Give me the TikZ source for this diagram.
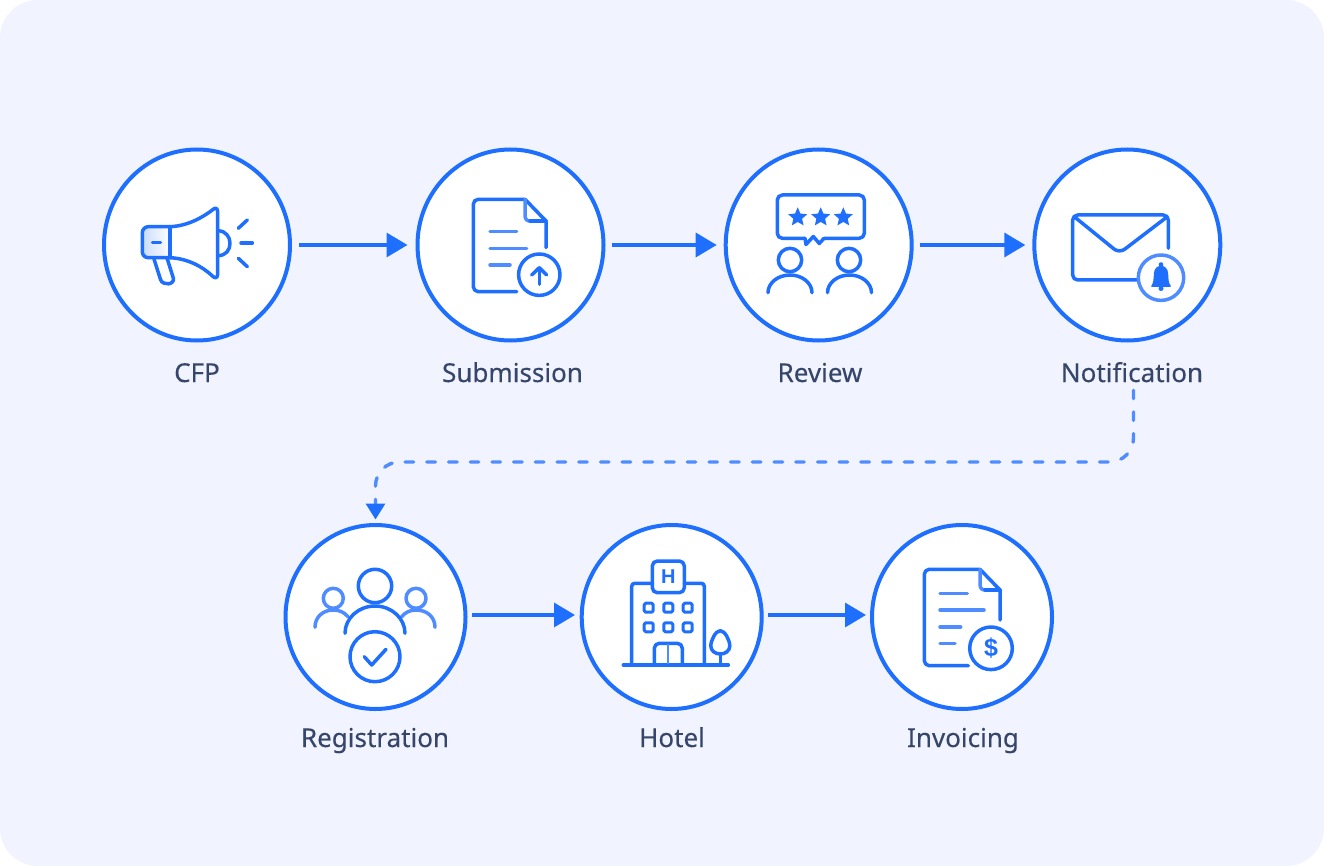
\documentclass[tikz,border=0pt]{standalone}
\usepackage{fontspec}
\setmainfont{Noto Sans}
\newfontfamily\signfont{Liberation Sans}
\usetikzlibrary{arrows.meta,calc,shapes.geometric}
\definecolor{bgpanel}{HTML}{F1F4FE}
\definecolor{mainblue}{HTML}{1F6FFF}
\definecolor{softblue}{HTML}{4F8CFF}
\definecolor{paleblue}{HTML}{C9DCFC}
\definecolor{labelink}{HTML}{36456A}
\tikzset{
  bigstation/.style={ellipse,draw=mainblue,fill=white,line width=4pt,minimum width=186pt,minimum height=191pt,inner sep=0pt,outer sep=0pt},
  smallstation/.style={ellipse,draw=mainblue,fill=white,line width=4pt,minimum width=180pt,minimum height=184pt,inner sep=0pt,outer sep=0pt},
  caption/.style={anchor=base,inner sep=0pt,outer sep=0pt,text=labelink,font=\fontsize{26}{30}\selectfont\addfontfeature{FakeBold=0.25}},
  flow/.style={draw=mainblue,line width=3.5pt,-{Triangle[length=21pt,width=24pt,color=mainblue]}},
  dashflow/.style={draw=softblue,line width=3.4pt,line cap=round,dash pattern=on 8.5pt off 13.2pt,rounded corners=24pt,-{Triangle[length=16pt,width=19pt,color=mainblue]}},
  ico/.style={draw=mainblue,line width=3.5pt,line cap=round,line join=round},
  icosoft/.style={draw=softblue,line width=3.5pt,line cap=round,line join=round},
  icothin/.style={draw=mainblue,line width=3pt,line cap=round,line join=round},
  icotext/.style={inner sep=0pt,outer sep=0pt,text=mainblue,font=\signfont\bfseries}
}
\newcommand{\personarc}[5][ico]{% centre x, half width, top y, bottom y
  \draw[#1] (#2-#3,#5) .. controls (#2-#3,#4+0.45*#5-0.45*#4) and (#2-0.55*#3,#4) .. (#2,#4)
    .. controls (#2+0.55*#3,#4) and (#2+#3,#4+0.45*#5-0.45*#4) .. (#2+#3,#5);}
\newcommand{\ratingstar}[2]{%
  \fill[mainblue,shift={(#1,#2)},line join=round]
   (-90:10) -- (-54:4.6) -- (-18:10) -- (18:4.6) -- (54:10) -- (90:4.6) -- (126:10) -- (162:4.6) -- (198:10) -- (234:4.6) -- cycle;}
\begin{document}
\begin{tikzpicture}[x=1pt,y=-1pt]
\useasboundingbox (0,0) rectangle (1324,866);
\fill[white] (0,0) rectangle (1324,866);
\fill[bgpanel,rounded corners=38pt] (0,0) rectangle (1324,866);

% stations
\node[bigstation] (cfp) at (197,245) {};
\node[bigstation] (sub) at (510.5,245) {};
\node[bigstation] (rev) at (818.7,245) {};
\node[bigstation] (noti) at (1127.3,245) {};
\node[smallstation] (reg) at (375.5,617) {};
\node[smallstation] (hot) at (671.7,617) {};
\node[smallstation] (inv) at (962,617) {};

% captions
\node[caption] (lcfp) at (197,382) {CFP};
\node[caption] (lsub) at (512.5,382) {Submission};
\node[caption] (lrev) at (820,382) {Review};
\node[caption] (lnoti) at (1132,382) {Notification};
\node[caption] (lreg) at (375,747) {Registration};
\node[caption] (lhot) at (672,747) {Hotel};
\node[caption] (linv) at (963,747) {Invoicing};

% connectors
\draw[flow,shorten <=9pt,shorten >=10pt] (cfp.east) -- (sub.west);
\draw[flow,shorten <=8pt,shorten >=9pt] (sub.east) -- (rev.west);
\draw[flow,shorten <=8pt,shorten >=9pt] (rev.east) -- (noti.west);
\draw[flow,shorten <=6.5pt,shorten >=6.7pt] ([yshift=2pt]reg.east) -- ([yshift=2pt]hot.west);
\draw[flow,shorten <=6.3pt,shorten >=6pt] ([yshift=2pt]hot.east) -- ([yshift=2pt]inv.west);
\coordinate (bendA) at (1133.5,462);
\coordinate (bendB) at (375.5,462);
\draw[dashflow,shorten <=8pt,shorten >=5.5pt] (lnoti.south -| bendA) -- (bendA) -- (bendB) -- (reg.north);

% megaphone
\shade[left color=paleblue,right color=white,rounded corners=6pt] (142.3,226.7) rectangle (170,257.7);
\draw[ico,rounded corners=6pt] (170,226.7) -- (142.3,226.7) -- (142.3,257.7) -- (170,257.7);
\draw[ico] (170,226.7) -- (170,257.7);
\draw[ico] (170,226.7) .. controls (187,226) and (202,218) .. (213,209.5) .. controls (215,207.5) and (217.5,208) .. (217.5,211) -- (217.5,275) .. controls (217.5,278) and (215,278.5) .. (213,276.5) .. controls (202,266) and (187,258.5) .. (170,257.7);
\draw[ico] (218,230.7) .. controls (226,231) and (230,237) .. (230,243.3) .. controls (230,250) and (226,255.5) .. (218,255.7);
\draw[ico] (152.5,242.7) -- (160.5,242.7);
\draw[ico] (238.3,228.3) -- (247.3,220);
\draw[ico] (241,243) -- (252.3,243);
\draw[ico] (238.3,258.3) -- (247.3,266.7);
\draw[ico] (154,259) -- (160.5,279.5) .. controls (162.5,286) and (175,285) .. (173.3,278) -- (167,258);

% submission document
\draw[ico,rounded corners=5pt] (516.7,291.7) -- (473.3,291.7) -- (473.3,199.3) -- (525,199.3);
\draw[ico] (525,199.3) -- (546,221) -- (546,247.7);
\draw[icosoft] (525,199.3) -- (525,215) .. controls (525,219) and (526.5,221) .. (530,221);
\draw[ico] (530,221) -- (546,221);
\draw[icosoft] (490,231.3) -- (516.7,231.3);
\draw[icosoft] (490,248.3) -- (526.7,248.3);
\draw[icosoft] (490,265) -- (510,265);
\draw[ico] (539.3,274.7) circle[radius=20.7pt];
\draw[ico] (539.3,284.3) -- (539.3,268);
\draw[ico] (531.7,275) -- (539.3,267.7) -- (546.7,275);

% review
\draw[ico,rounded corners=5pt] (824,238.3) -- (864.3,238.3) -- (864.3,195) -- (777.3,195) -- (777.3,238.3) -- (805,238.3);
\draw[ico] (824,238.3) -- (819.3,243.5) -- (813.3,236.5) -- (806,244.5) -- (805,238.3);
\ratingstar{797.7}{217.3}
\ratingstar{820.7}{217.3}
\ratingstar{843.3}{217.3}
\draw[ico] (790,260) circle[radius=11.7pt];
\draw[ico] (849,260) circle[radius=11.7pt];
\personarc{790}{22}{275}{292.7}
\personarc{849.5}{22}{275}{292.7}

% envelope
\draw[ico,rounded corners=5pt] (1168.3,248.3) -- (1168.3,215) -- (1072.7,215) -- (1072.7,280) -- (1138,280);
\draw[ico] (1075,217.3) -- (1114,249) .. controls (1117,251.5) and (1122,251.5) .. (1125,249) -- (1166.5,217.3);
\draw[icosoft] (1161,277.7) circle[radius=22.7pt];
\fill[mainblue] (1161,264.5) circle[radius=2.3pt];
\fill[mainblue,rounded corners=1.2pt] (1150.5,287) .. controls (1153.5,283) and (1153.5,279) .. (1153.8,275) .. controls (1154,268) and (1158,266) .. (1161,266) .. controls (1164,266) and (1168,268) .. (1168.2,275) .. controls (1168.5,279) and (1168.5,283) .. (1171.5,287) -- cycle;
\fill[mainblue] (1161,288.5) circle[radius=2.5pt];

% registration
\draw[icosoft] (333.3,598.3) circle[radius=10pt];
\draw[icosoft] (416,598.3) circle[radius=10pt];
\draw[icosoft] (315,627.3) .. controls (315,617) and (323,610) .. (333.3,610) .. controls (339,610) and (344,612) .. (348,616.7);
\draw[icosoft] (435,627.3) .. controls (435,617) and (427,610) .. (416,610) .. controls (410.5,610) and (405.5,612) .. (401.7,616.7);
\draw[ico] (375,586) circle[radius=16.7pt];
\personarc{375}{30}{606}{633.3}
\draw[ico] (375,656.7) circle[radius=25pt];
\draw[ico] (364.3,656.7) -- (371.7,665) -- (386,649.3);

% hotel
\draw[ico] (623.3,665) -- (728.3,665);
\draw[ico,rounded corners=3pt] (631.7,665) -- (631.7,583.3) -- (652.3,583.3);
\draw[ico,rounded corners=3pt] (684.3,583.3) -- (704.3,583.3) -- (704.3,665);
\draw[ico,rounded corners=5pt] (652.3,561) rectangle (684.3,592.7);
\node[icotext,font=\signfont\bfseries\fontsize{20}{20}\selectfont] (hsign) at (668.3,577) {H};
\foreach \wx in {648.7,668.3,687.7}
  \foreach \wy in {607.7,627.3}
    \draw[icothin,rounded corners=1.5pt] (\wx-4.5,\wy-4.5) rectangle (\wx+4.5,\wy+4.5);
\draw[ico,rounded corners=5pt] (654.3,665) -- (654.3,643.3) -- (682.3,643.3) -- (682.3,665);
\draw[draw=softblue,line width=2pt] (668.3,644) -- (668.3,664);
\draw[ico] (720.3,630.7) .. controls (725,630.7) and (729.8,640.5) .. (729.8,646) .. controls (729.8,651) and (725,654) .. (720.3,654) .. controls (715.5,654) and (710.8,651) .. (710.8,646) .. controls (710.8,640.5) and (715.5,630.7) .. (720.3,630.7) -- cycle;
\draw[ico] (720.3,654) -- (720.3,665);

% invoice
\draw[ico,rounded corners=5pt] (968.3,665.7) -- (924.3,665.7) -- (924.3,569.3) -- (980,569.3);
\draw[ico] (980,569.3) -- (1000,590) -- (1000,620);
\draw[icosoft] (980,569.3) -- (980,584) .. controls (980,588) and (981.5,590) .. (985,590);
\draw[ico] (985,590) -- (1000,590);
\draw[icosoft] (940,593.3) -- (967.3,593.3);
\draw[icosoft] (940,610) -- (984,610);
\draw[icosoft] (940,627) -- (960.7,627);
\draw[icosoft] (940,643.7) -- (955,643.7);
\draw[ico] (991,648.3) circle[radius=21.3pt];
\node[icotext,font=\signfont\bfseries\fontsize{25}{25}\selectfont] (dollar) at (991,648.3) {\$};
\end{tikzpicture}
\end{document}
